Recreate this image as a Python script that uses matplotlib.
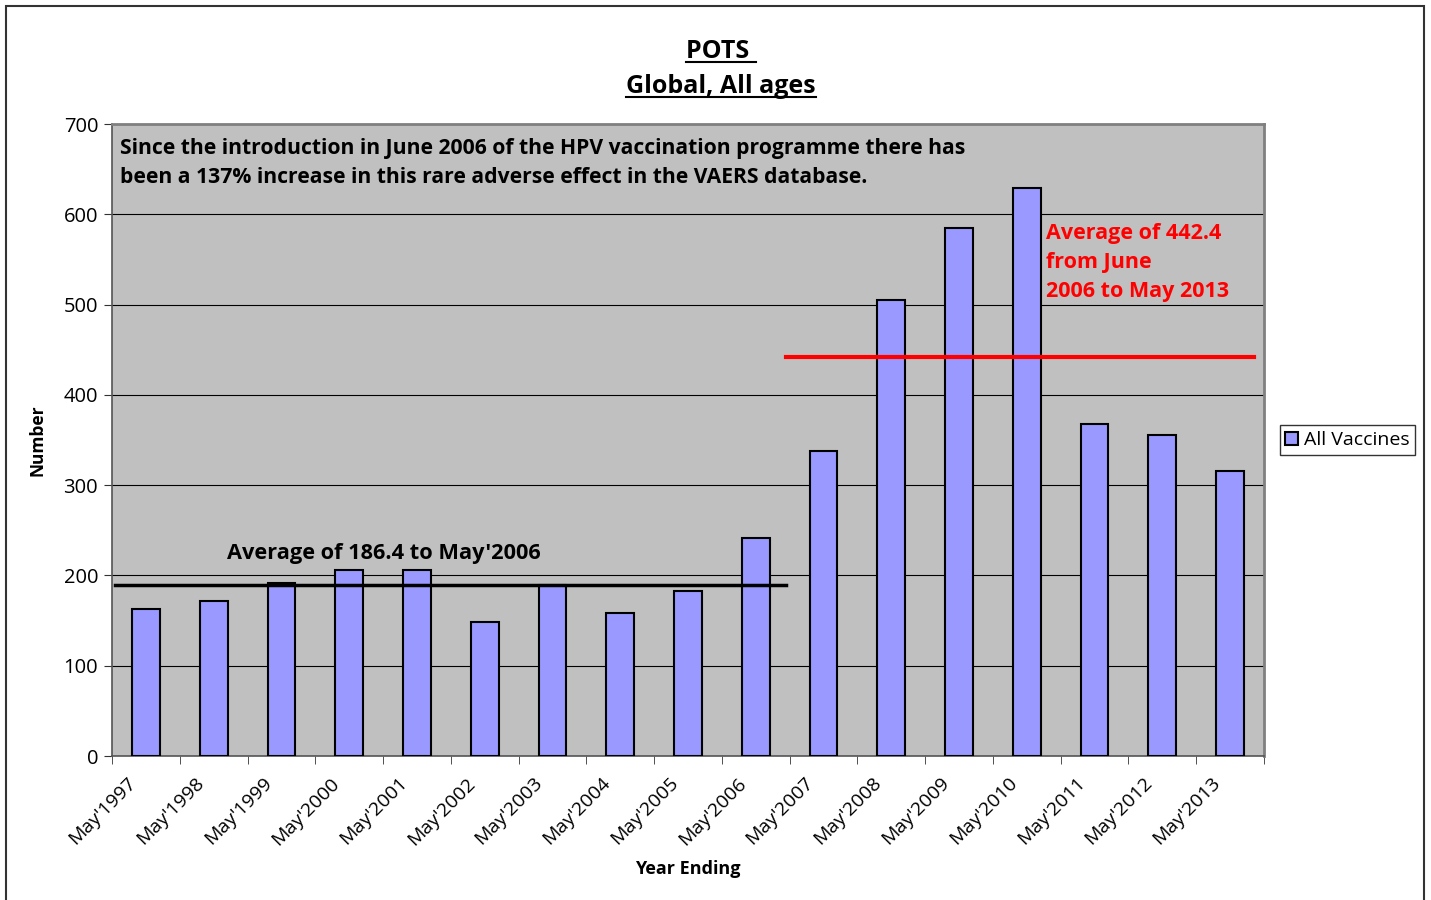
import matplotlib

matplotlib.use("Agg")
import matplotlib.pyplot as plt
from matplotlib.patches import Rectangle
import numpy as np

plt.rcParams["font.family"] = ["Open Sans", "DejaVu Sans"]

years = ["May'1997", "May'1998", "May'1999", "May'2000", "May'2001", "May'2002",
         "May'2003", "May'2004", "May'2005", "May'2006", "May'2007", "May'2008",
         "May'2009", "May'2010", "May'2011", "May'2012", "May'2013"]
reports = [163, 172, 192, 206, 206, 148, 189, 158, 183, 241,
           338, 505, 585, 629, 368, 355, 316]

# average lines: (value, first category edge, last category edge)
avg_before = 189
avg_before_span = (-0.46, 9.45)
avg_after = 442.4
avg_after_span = (9.45, 16.35)

BAR = "#9999ff"
PLOT_BG = "#c0c0c0"

fig = plt.figure(figsize=(14.31, 9.0), dpi=100)
fig.patches.append(Rectangle((0.004, -0.01), 0.991, 1.003, transform=fig.transFigure,
                             fill=False, edgecolor="#333333", lw=1.5))
ax = fig.add_axes([0.0783, 0.16, 0.805, 0.7022])
ax.set_facecolor(PLOT_BG)

x = np.arange(len(years))
ax.bar(x, reports, width=0.41, color=BAR, edgecolor="black", lw=1.5,
       label="All Vaccines", zorder=3)

ax.set_xlim(-0.5, len(years) - 0.5)
ax.set_ylim(0, 700)
ax.set_yticks(range(0, 701, 100))
ax.yaxis.grid(True, color="black", lw=0.8, zorder=1)
ax.set_axisbelow(True)

# labels sit a little left of the category centre, as in the Excel original
ax.set_xticks(x - 0.28)
ax.set_xticklabels(years, rotation=45, ha="right", rotation_mode="anchor", fontsize=14)
ax.set_xticks(np.arange(-0.5, len(years)), minor=True)
ax.tick_params(axis="x", which="major", length=0, pad=13)
ax.tick_params(axis="x", which="minor", length=6, color="#333333")
ax.tick_params(axis="y", labelsize=14.5, length=6, color="#333333", pad=4)

for s in ["top", "right"]:
    ax.spines[s].set_color("#808080")
    ax.spines[s].set_linewidth(2)
for s in ["left", "bottom"]:
    ax.spines[s].set_color("#555555")
    ax.spines[s].set_linewidth(1.2)

ax.plot(avg_before_span, [avg_before, avg_before], color="black", lw=2.5, zorder=4)
ax.plot(avg_after_span, [avg_after, avg_after], color="#ff0000", lw=3, zorder=4)

ax.text(1.2, 213, "Average of 186.4 to May'2006", fontsize=15.7, fontweight="bold",
        color="black", va="bottom", zorder=5)
ax.text(13.28, 590, "Average of 442.4\nfrom June\n2006 to May 2013", fontsize=15.5,
        fontweight="bold", color="#ff0000", va="top", linespacing=1.5, zorder=5)
ax.text(0.007, 0.978,
        "Since the introduction in June 2006 of the HPV vaccination programme there has\n"
        "been a 137% increase in this rare adverse effect in the VAERS database.",
        transform=ax.transAxes, fontsize=15.2, fontweight="bold", va="top",
        linespacing=1.5, zorder=5)

ax.set_ylabel("Number", fontsize=12.5, fontweight="bold", labelpad=12)
ax.set_xlabel("Year Ending", fontsize=13, fontweight="bold", labelpad=8)

leg = ax.legend(loc="center left", bbox_to_anchor=(1.0135, 0.5), fontsize=14,
                frameon=True, fancybox=False, edgecolor="black", handlelength=0.65,
                handleheight=0.65, handletextpad=0.3, borderpad=0.3, borderaxespad=0)
leg.get_frame().set_linewidth(1)

t1 = fig.text(0.504, 0.943, "POTS ", fontsize=18, fontweight="bold", ha="center", va="center")
t2 = fig.text(0.504, 0.904, "Global, All ages", fontsize=18, fontweight="bold",
              ha="center", va="center")

# underline the title lines
fig.canvas.draw()
inv = fig.transFigure.inverted()
for t in (t1, t2):
    bb = t.get_window_extent()
    (x0, y0), (x1, y1) = inv.transform([(bb.x0, bb.y0), (bb.x1, bb.y1)])
    yline = y0 + (y1 - y0) * 0.08
    fig.add_artist(plt.Line2D([x0, x1], [yline, yline], transform=fig.transFigure,
                              color="black", lw=1.5))

fig.savefig("out.png", dpi=100, facecolor="white")
